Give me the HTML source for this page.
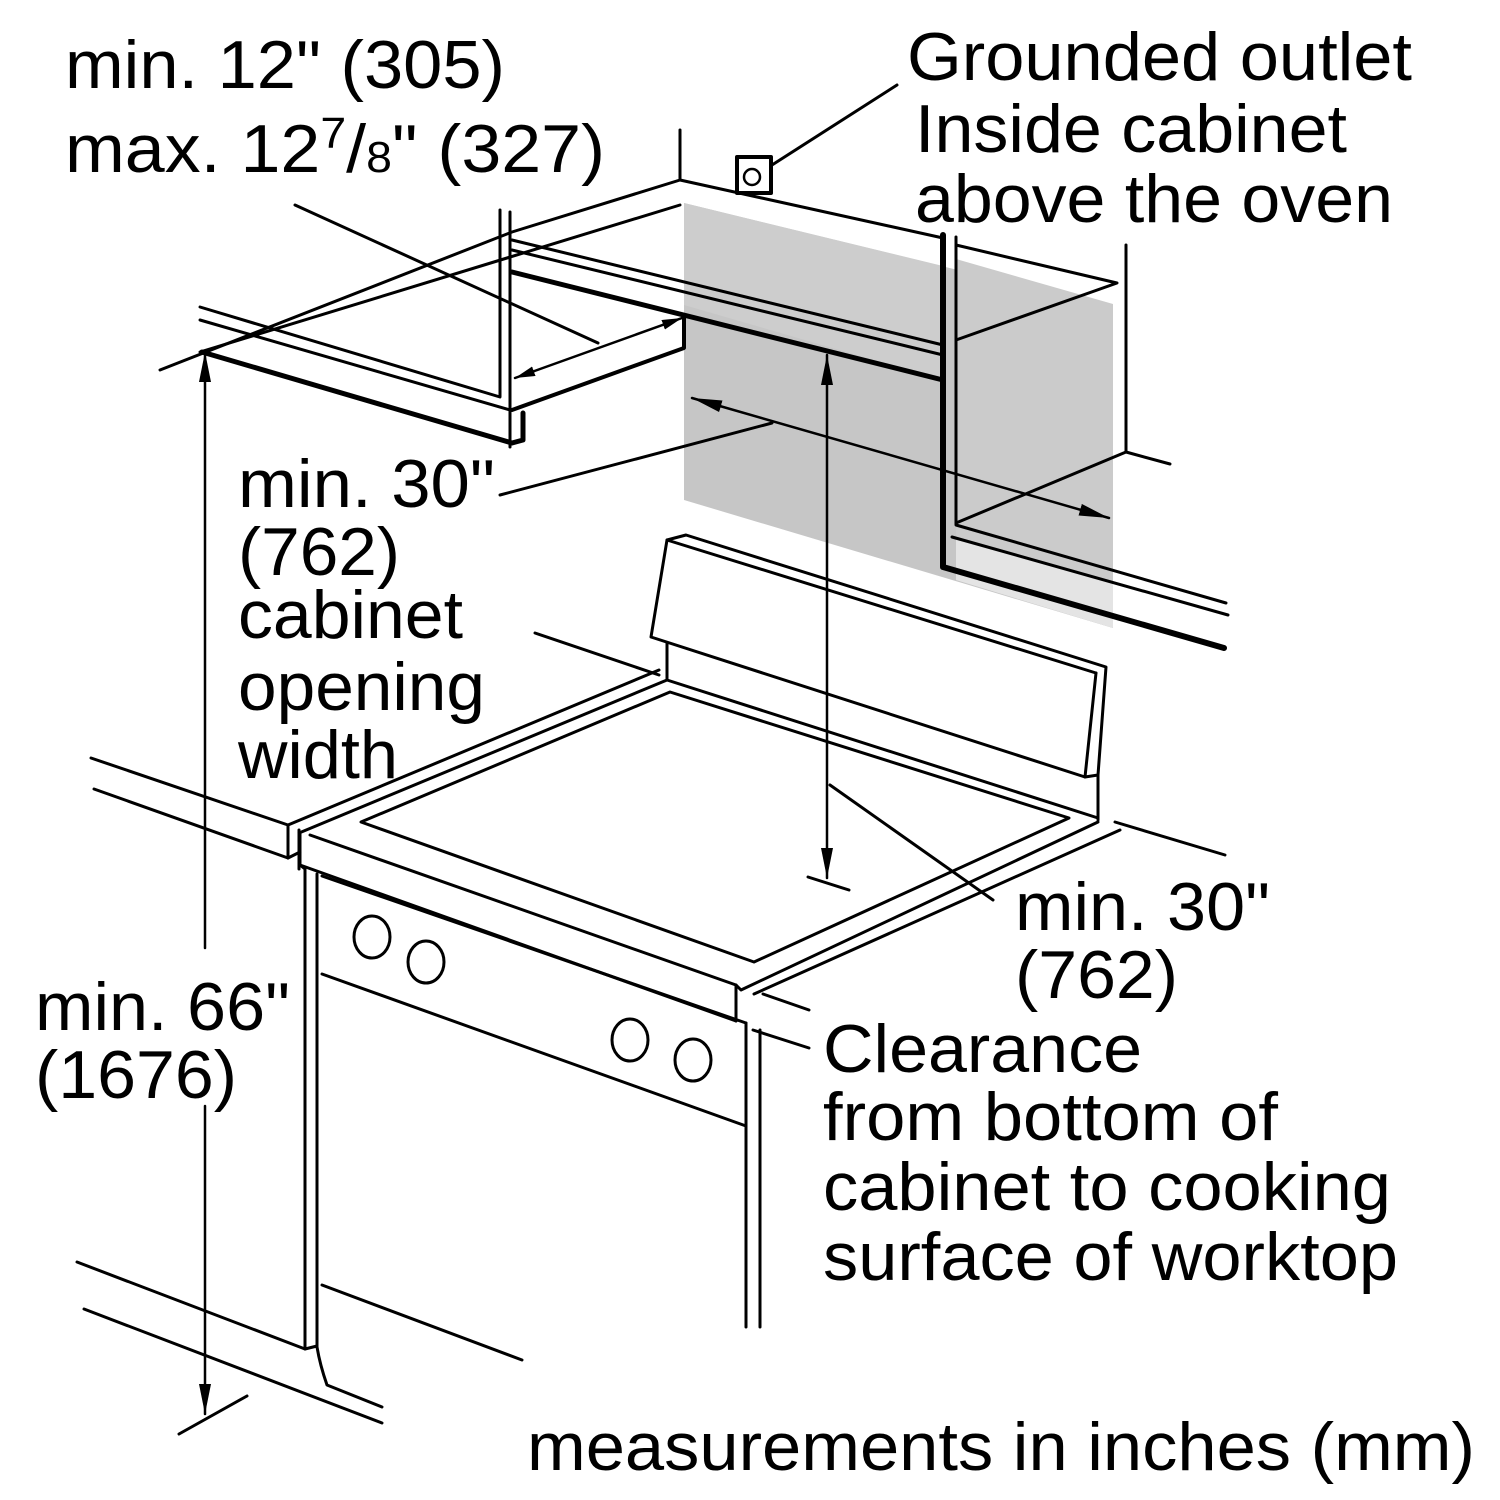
<!DOCTYPE html>
<html><head><meta charset="utf-8"><style>html,body{margin:0;padding:0;background:#fff}svg{display:block}</style></head>
<body>
<svg width="1500" height="1500" viewBox="0 0 1500 1500" xmlns="http://www.w3.org/2000/svg">
<defs>
<marker id="ah" viewBox="0 0 20 10" refX="20" refY="5" markerWidth="20" markerHeight="10" markerUnits="userSpaceOnUse" orient="auto-start-reverse"><path d="M0,0 L20,5 L0,10 Z" fill="#000"/></marker>
<marker id="ah2" viewBox="0 0 30 12" refX="30" refY="6" markerWidth="30" markerHeight="12" markerUnits="userSpaceOnUse" orient="auto-start-reverse"><path d="M0,0 L30,6 L0,12 Z" fill="#000"/></marker>
</defs>
<polygon points="684,203 1113,308 1113,628 684,500" fill="#c6c6c6"/>
<polygon points="684,203 943,266 943,380 684,305" fill="#cdcdcd"/>
<polygon points="956,259 1113,304 1113,628 956,580" fill="#cbcbcb"/>
<polygon points="956,537 1113,584 1113,628 956,580" fill="#e4e4e4"/>
<g stroke="#000" fill="none" stroke-width="3" stroke-linecap="round" stroke-linejoin="round">
<line x1="295" y1="205" x2="598" y2="343"/>
<line x1="680" y1="130" x2="680" y2="180"/>
<polyline points="160,370 512,232 680,180"/>
<line x1="200" y1="352" x2="680" y2="205"/>
<polyline points="200,307 500,397 500,210"/>
<line x1="510" y1="212" x2="510" y2="447"/>
<line x1="200" y1="320" x2="510" y2="410"/>
<polyline points="512,410 684,348 684,318" stroke-width="4"/>
<polyline points="202,352 512,443 523,440 523,413" stroke-width="5"/>
<line x1="512" y1="240" x2="943" y2="345"/>
<line x1="512" y1="250" x2="943" y2="355"/>
<line x1="512" y1="272" x2="943" y2="380" stroke-width="5"/>
<line x1="680" y1="180" x2="943" y2="238"/>
<line x1="515" y1="378" x2="682" y2="318" stroke-width="2.5" marker-start="url(#ah)" marker-end="url(#ah)"/>
<rect x="737" y="157" width="34" height="36" stroke-width="4"/>
<circle cx="752" cy="177" r="8" stroke-width="2.5"/>
<line x1="772" y1="165" x2="897" y2="85"/>
<polyline points="943,235 943,567 1224,648" stroke-width="6"/>
<polyline points="956,237 956,525 1226,603"/>
<line x1="952" y1="537" x2="1228" y2="615"/>
<polyline points="956,245 1117,283 956,340"/>
<polyline points="1126,245 1126,452 1170,464"/>
<line x1="1126" y1="452" x2="956" y2="523"/>
<line x1="692" y1="398" x2="1109" y2="518" stroke-width="2.5" marker-start="url(#ah2)" marker-end="url(#ah2)"/>
<line x1="500" y1="495" x2="772" y2="423"/>
<line x1="827" y1="355" x2="827" y2="878" stroke-width="2.5" marker-start="url(#ah2)" marker-end="url(#ah2)"/>
<line x1="808" y1="877" x2="849" y2="890"/>
<polyline points="651,637 667,540 686,535 1106,667 1098,775 1085,777 651,637"/>
<line x1="667" y1="540" x2="1096" y2="673"/>
<line x1="1096" y1="673" x2="1085" y2="777"/>
<line x1="667" y1="643" x2="667" y2="680"/>
<line x1="1098" y1="775" x2="1098" y2="820"/>
<line x1="535" y1="633" x2="659" y2="675"/>
<line x1="288" y1="825" x2="659" y2="670"/>
<line x1="299" y1="833" x2="667" y2="680"/>
<polyline points="299,830 299,869"/>
<line x1="667" y1="680" x2="1098" y2="818"/>
<polygon points="361,822 670,692 1069,818 754,962"/>
<polyline points="310,835 736,985 741,990 1098,822"/>
<line x1="736" y1="985" x2="736" y2="1021"/>
<line x1="754" y1="994" x2="1120" y2="830"/>
<line x1="1115" y1="822" x2="1225" y2="855"/>
<line x1="830" y1="785" x2="993" y2="900"/>
<line x1="763" y1="994" x2="809" y2="1010"/>
<line x1="753" y1="1030" x2="809" y2="1048"/>
<line x1="91" y1="758" x2="288" y2="825"/>
<line x1="94" y1="789" x2="288" y2="858"/>
<line x1="288" y1="825" x2="288" y2="858"/>
<line x1="288" y1="858" x2="300" y2="852"/>
<line x1="300" y1="865" x2="736" y2="1021"/>
<polyline points="300,834 300,865 305,869 305,1349 317,1346"/>
<path d="M317,874 L317,1347 Q320,1365 327,1385 L382,1407"/>
<line x1="322" y1="876" x2="746" y2="1023"/>
<line x1="322" y1="974" x2="746" y2="1126"/>
<line x1="746" y1="1023" x2="746" y2="1327"/>
<line x1="760" y1="1030" x2="760" y2="1327"/>
<ellipse cx="372" cy="937" rx="18" ry="21"/>
<ellipse cx="426" cy="962" rx="18" ry="21"/>
<ellipse cx="630" cy="1040" rx="18" ry="21"/>
<ellipse cx="693" cy="1060" rx="18" ry="21"/>
<line x1="322" y1="1285" x2="522" y2="1360"/>
<line x1="77" y1="1262" x2="305" y2="1349"/>
<line x1="84" y1="1309" x2="382" y2="1423"/>
<line x1="205" y1="352" x2="205" y2="948" stroke-width="2.5" marker-start="url(#ah2)"/>
<line x1="205" y1="1106" x2="205" y2="1414" stroke-width="2.5" marker-end="url(#ah2)"/>
<line x1="179" y1="1434" x2="247" y2="1396"/>
</g>
<g font-family="Liberation Sans, Arial, sans-serif" font-size="68" fill="#000" lengthAdjust="spacingAndGlyphs">
<text x="65" y="88" textLength="440" lengthAdjust="spacingAndGlyphs">min. 12" (305)</text>
<text x="65" y="172" textLength="540" lengthAdjust="spacingAndGlyphs">max. 12<tspan font-size="44" dy="-24">7</tspan><tspan dy="24">/</tspan><tspan font-size="44">8</tspan>" (327)</text>
<text x="907" y="80" textLength="505" lengthAdjust="spacingAndGlyphs">Grounded outlet</text>
<text x="915" y="152" textLength="432" lengthAdjust="spacingAndGlyphs">Inside cabinet</text>
<text x="915" y="222" textLength="478" lengthAdjust="spacingAndGlyphs">above the oven</text>
<text x="238" y="507" textLength="257" lengthAdjust="spacingAndGlyphs">min. 30"</text>
<text x="238" y="575" textLength="162" lengthAdjust="spacingAndGlyphs">(762)</text>
<text x="238" y="638" textLength="225" lengthAdjust="spacingAndGlyphs">cabinet</text>
<text x="238" y="710" textLength="247" lengthAdjust="spacingAndGlyphs">opening</text>
<text x="238" y="778" textLength="160" lengthAdjust="spacingAndGlyphs">width</text>
<text x="35" y="1030" textLength="255" lengthAdjust="spacingAndGlyphs">min. 66"</text>
<text x="35" y="1098" textLength="202" lengthAdjust="spacingAndGlyphs">(1676)</text>
<text x="1015" y="930" textLength="255" lengthAdjust="spacingAndGlyphs">min. 30"</text>
<text x="1015" y="998" textLength="163" lengthAdjust="spacingAndGlyphs">(762)</text>
<text x="823" y="1072" textLength="319" lengthAdjust="spacingAndGlyphs">Clearance</text>
<text x="823" y="1140" textLength="455" lengthAdjust="spacingAndGlyphs">from bottom of</text>
<text x="823" y="1210" textLength="568" lengthAdjust="spacingAndGlyphs">cabinet to cooking</text>
<text x="823" y="1280" textLength="575" lengthAdjust="spacingAndGlyphs">surface of worktop</text>
<text x="527" y="1470" textLength="948" lengthAdjust="spacingAndGlyphs">measurements in inches (mm)</text>
</g>
</svg>
</body></html>
